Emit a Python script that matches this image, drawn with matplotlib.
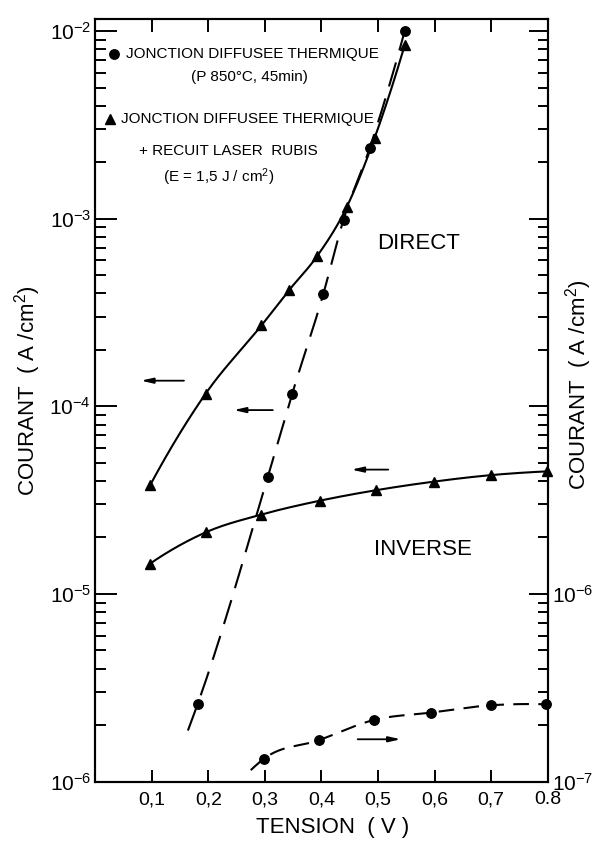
import numpy as np
import matplotlib
matplotlib.use("Agg")
import matplotlib.pyplot as plt
from matplotlib.ticker import FixedLocator, LogLocator, NullFormatter

plt.rcParams['font.family'] = ['Liberation Sans', 'DejaVu Sans']
plt.rcParams['mathtext.default'] = 'regular'

# sens direct, jonction diffusee thermique (ronds)
dir_circ_v = [0.181, 0.305, 0.348, 0.403, 0.439, 0.485, 0.547]
dir_circ_i = [2.58e-6, 4.19e-5, 1.16e-4, 3.95e-4, 9.9e-4, 2.37e-3, 1.0e-2]
# sens direct, + recuit laser rubis (triangles)
dir_tri_v = [0.097, 0.1955, 0.294, 0.343, 0.392, 0.445, 0.494, 0.547]
dir_tri_i = [3.79e-5, 1.17e-4, 2.7e-4, 4.17e-4, 6.3e-4, 1.16e-3, 2.7e-3, 8.4e-3]
# sens inverse, laser (triangles, axe gauche)
inv_tri_v = [0.097, 0.1955, 0.294, 0.397, 0.496, 0.599, 0.700, 0.799]
inv_tri_i = [1.45e-5, 2.13e-5, 2.65e-5, 3.14e-5, 3.57e-5, 3.97e-5, 4.3e-5, 4.5e-5]
# sens inverse, thermique (ronds, axe droit)
inv_circ_v = [0.298, 0.395, 0.493, 0.593, 0.700, 0.797]
inv_circ_i = [1.32e-7, 1.66e-7, 2.13e-7, 2.33e-7, 2.55e-7, 2.58e-7]

# where the dashed curves start, below the first point
dir_circ_start = (0.164, 1.87e-6)
inv_circ_start = (0.275, 1.15e-7)

# arrows (tail, head) in data units
arrows_left = [((0.157, 1.37e-4), (0.081, 1.37e-4)),
               ((0.314, 9.55e-5), (0.245, 9.55e-5)),
               ((0.518, 4.6e-5), (0.453, 4.6e-5))]
arrows_right = [((0.464, 1.68e-7), (0.540, 1.68e-7))]

x_ticks = [0.1, 0.2, 0.3, 0.4, 0.5, 0.6, 0.7, 0.8]
x_tick_labels = ['0,1', '0,2', '0,3', '0,4', '0,5', '0,6', '0,7', '0.8']
left_decades = [1e-6, 1e-5, 1e-4, 1e-3, 1e-2]
left_labels = ['$10^{-6}$', '$10^{-5}$', '$10^{-4}$', '$10^{-3}$', '$10^{-2}$']
right_decades = [1e-7, 1e-6, 1e-5, 1e-4, 1e-3]
right_labels = ['$10^{-7}$', '$10^{-6}$', '', '', '']


def smooth(xs, ys, n=30):
    # hermite curve through the points, in (V, log I)
    x = np.asarray(xs, float)
    y = np.log10(np.asarray(ys, float))
    h = np.diff(x)
    d = np.diff(y) / h
    m = np.empty_like(y)
    m[1:-1] = (d[:-1] * h[1:] + d[1:] * h[:-1]) / (h[:-1] + h[1:])
    m[0] = 2 * d[0] - m[1]
    m[-1] = 2 * d[-1] - m[-2]
    ox, oy = [], []
    for k in range(len(h)):
        t = np.linspace(0, 1, n, endpoint=False)
        h00 = 2 * t**3 - 3 * t**2 + 1
        h10 = t**3 - 2 * t**2 + t
        h01 = -2 * t**3 + 3 * t**2
        h11 = t**3 - t**2
        ox.extend(x[k] + t * h[k])
        oy.extend(h00 * y[k] + h10 * h[k] * m[k] + h01 * y[k + 1] + h11 * h[k] * m[k + 1])
    ox.append(x[-1])
    oy.append(y[-1])
    return np.array(ox), 10 ** np.array(oy)


fig = plt.figure(figsize=(6.02, 8.42), dpi=100)
ax = fig.add_axes([0.158, 0.0718, 0.752, 0.9056])
ax2 = ax.twinx()

ax.set_yscale('log')
ax2.set_yscale('log')
ax.set_xlim(0, 0.8)
ax.set_ylim(1e-6, 1.16e-2)
ax2.set_ylim(1e-7, 1.16e-3)

# curves
lw = 1.5
lx, ly = smooth(dir_tri_v, dir_tri_i)
ax.plot(lx, ly, color='k', lw=lw)
lx, ly = smooth(inv_tri_v, inv_tri_i)
ax.plot(lx, ly, color='k', lw=lw)
lx, ly = smooth([dir_circ_start[0]] + dir_circ_v, [dir_circ_start[1]] + dir_circ_i)
ax.plot(lx, ly, color='k', lw=lw, dashes=(12, 6))
lx, ly = smooth([inv_circ_start[0]] + inv_circ_v, [inv_circ_start[1]] + inv_circ_i)
ax2.plot(lx, ly, color='k', lw=lw, dashes=(7.5, 4.5))

# points
ax.plot(dir_circ_v, dir_circ_i, 'o', color='k', ms=6.8, clip_on=False)
ax.plot(dir_tri_v, dir_tri_i, '^', color='k', ms=7.5, clip_on=False)
ax.plot(inv_tri_v, inv_tri_i, '^', color='k', ms=7.5, clip_on=False)
ax2.plot(inv_circ_v, inv_circ_i, 'o', color='k', ms=6.8, clip_on=False)

astyle = dict(arrowstyle='-|>,head_length=0.7,head_width=0.16',
              color='k', lw=1.3, shrinkA=0, shrinkB=0)
for tail, head in arrows_left:
    ax.annotate('', xy=head, xytext=tail, arrowprops=astyle)
for tail, head in arrows_right:
    ax2.annotate('', xy=head, xytext=tail, arrowprops=astyle)

# ticks
ax.set_xticks(x_ticks)
ax.set_xticklabels(x_tick_labels)
ax.yaxis.set_major_locator(FixedLocator(left_decades))
ax.set_yticklabels(left_labels)
ax.yaxis.set_minor_locator(LogLocator(base=10, subs=np.arange(2, 10)))
ax.yaxis.set_minor_formatter(NullFormatter())
ax2.yaxis.set_major_locator(FixedLocator(right_decades))
ax2.set_yticklabels(right_labels)
ax2.yaxis.set_minor_locator(LogLocator(base=10, subs=np.arange(2, 10)))
ax2.yaxis.set_minor_formatter(NullFormatter())

ax.tick_params(axis='x', which='major', direction='in', length=9, width=1.4,
               top=True, labelsize=14, pad=7)
ax.tick_params(axis='y', which='major', direction='in', length=16, width=1.4,
               right=False, labelsize=15, pad=3)
ax.tick_params(axis='y', which='minor', direction='in', length=8, width=1.4, right=False)
ax2.tick_params(axis='y', which='major', direction='in', length=14, width=1.4,
                labelsize=15, pad=3)
ax2.tick_params(axis='y', which='minor', direction='in', length=7, width=1.4)

for a in (ax, ax2):
    for s in a.spines.values():
        s.set_linewidth(1.5)

ax.set_xlabel('TENSION  ( V )', fontsize=16)
ax.xaxis.set_label_coords(0.524, -0.06)
ax.xaxis.label.set_va('center')
ax.set_ylabel('COURANT  ( A /cm$^2$)', fontsize=16)
ax.yaxis.set_label_coords(-0.150, 0.512)
ax.yaxis.label.set_va('center')
ax2.set_ylabel('COURANT  ( A /cm$^2$)', fontsize=16)
ax2.yaxis.set_label_coords(1.068, 0.52)
ax2.yaxis.label.set_va('center')

# legend drawn by hand, like the original
tr = ax.transAxes
ax.plot([0.042], [0.954], 'o', color='k', ms=6.8, transform=tr)
ax.text(0.068, 0.954, 'JONCTION DIFFUSEE THERMIQUE', transform=tr, fontsize=11, va='center')
ax.text(0.340, 0.924, '(P 850°C, 45min)', transform=tr, fontsize=11, va='center', ha='center')
ax.plot([0.033], [0.869], '^', color='k', ms=7.5, transform=tr)
ax.text(0.057, 0.869, 'JONCTION DIFFUSEE THERMIQUE', transform=tr, fontsize=11, va='center')
ax.text(0.294, 0.827, '+ RECUIT LASER  RUBIS', transform=tr, fontsize=11, va='center', ha='center')
ax.text(0.274, 0.792, '(E = 1,5 J / cm$^2$)', transform=tr, fontsize=11, va='center', ha='center')
ax.text(0.715, 0.706, 'DIRECT', transform=tr, fontsize=16, va='center', ha='center')
ax.text(0.724, 0.304, 'INVERSE', transform=tr, fontsize=16, va='center', ha='center')

fig.savefig('out.png', dpi=100)
